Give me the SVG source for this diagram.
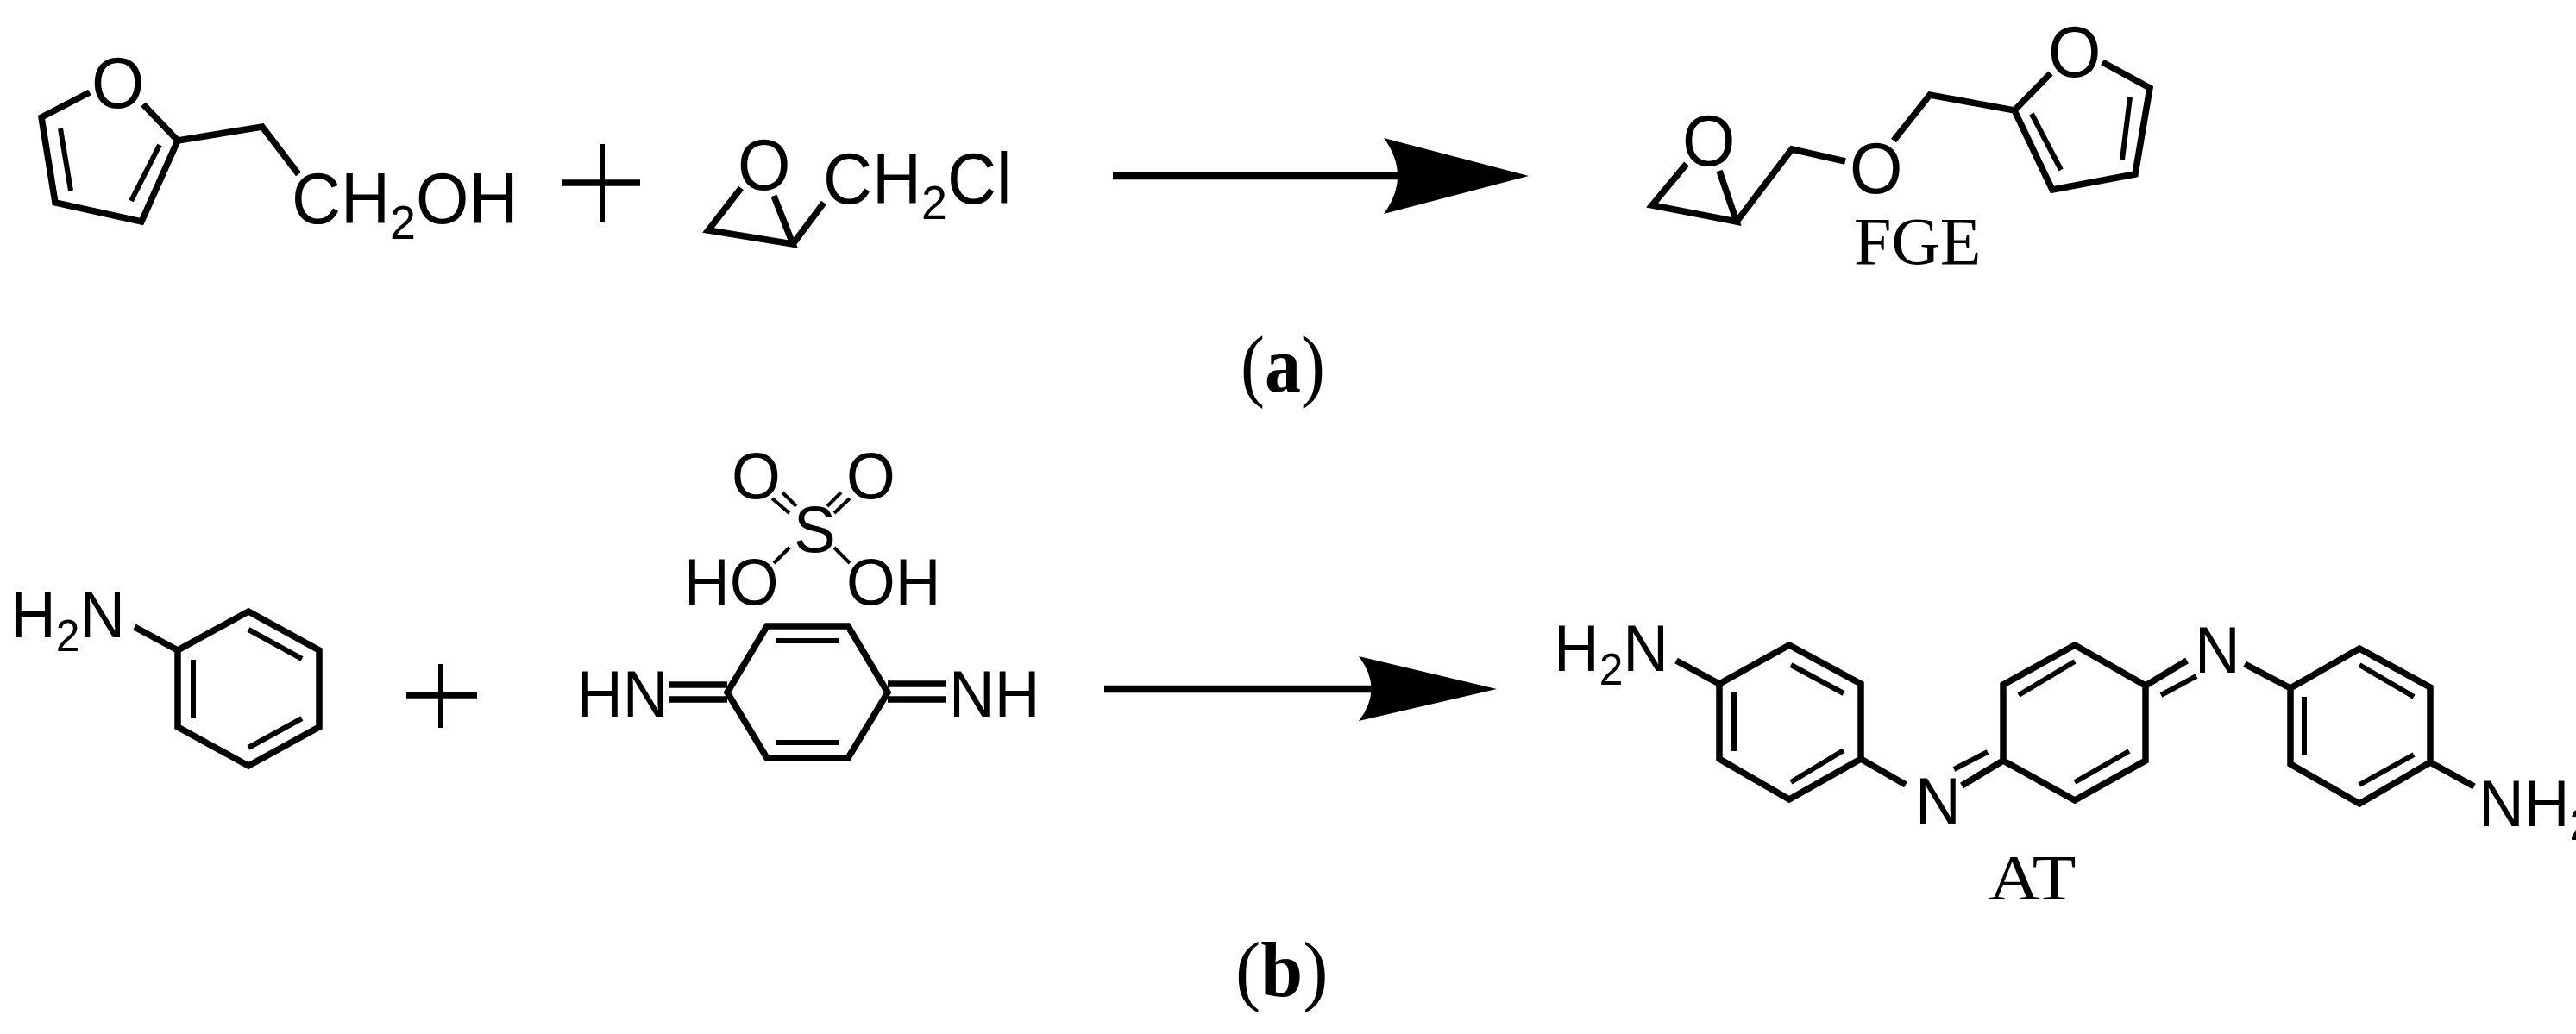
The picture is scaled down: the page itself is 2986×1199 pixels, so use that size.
<svg xmlns="http://www.w3.org/2000/svg" width="2986" height="1199" viewBox="0 0 2986 1199">
<style>
.b{fill:none;stroke:#000;stroke-width:7.5;stroke-linejoin:miter;stroke-linecap:butt}
.i{fill:none;stroke:#000;stroke-width:6}
.t{fill:none;stroke:#000;stroke-width:4}
.s{font-family:"Liberation Sans",Arial,sans-serif;font-size:79px;fill:#000}
.m{font-family:"Liberation Sans",Arial,sans-serif;font-size:73px;fill:#000}
.r{font-family:"Liberation Serif","Times New Roman",serif;font-size:78px;fill:#000}
.sub{font-size:0.68em}
.bd{font-weight:bold}
.ar{stroke:#000;stroke-width:8.5;fill:none}
.hd{fill:#000;stroke:none}
</style>
<rect width="2986" height="1199" fill="#fff"/>
<g id="connectors">
<line class="ar" x1="1290" y1="204" x2="1630" y2="204"/>
<path class="hd" d="M1772 204L1604 160Q1636 204 1604 248Z"/>
<line class="ar" x1="1280" y1="799" x2="1598" y2="799"/>
<path class="hd" d="M1735 799L1575 761Q1604 799 1575 836Z"/>
</g>
<g id="furfuryl-alcohol">
<path class="b" d="M104 107L48 136L64 235L164 257L206 163L166 121"/>
<path class="b" d="M206 163L304 147L346 202"/>
<path class="i" d="M70 149L82 221M185 168L152 233"/>
<text class="s" transform="translate(106,125) scale(1,1.05)">O</text>
<text class="s" transform="translate(338,259) scale(1,1.05)">CH<tspan class="sub" dy="17">2</tspan><tspan dy="-17">OH</tspan></text>
</g>
<g id="plus-a" transform="translate(-2,0)"><path class="b" d="M654 212H744"/><path class="i" d="M700 167V257"/></g>
<g id="epichlorohydrin" transform="translate(-3,0)">
<path class="b" d="M862 218L824 267L922 283L900 227M922 283L958 235"/>
<text class="s" transform="translate(858,220) scale(1,1.05)">O</text>
<text class="s" transform="translate(957,236) scale(1,1.05)">CH<tspan class="sub" dy="17">2</tspan><tspan dy="-17">Cl</tspan></text>
</g>
<g id="FGE" transform="translate(-3,0)">
<path class="b" d="M1958 190L1918 238L2016 257L1996 198M2016 257L2080 173L2142 187M2198 163L2240 110L2338 128L2380 85M2440 72L2495 102L2478 202L2382 220L2338 128"/>
<path class="i" d="M2472 113L2463 185M2358 132L2392 197"/>
<text class="s" transform="translate(1953,192) scale(1,1.05)">O</text>
<text class="s" transform="translate(2147,224) scale(1,1.05)">O</text>
<text class="s" transform="translate(2377,89) scale(1,1.05)">O</text>
<text class="r" x="2152" y="306">FGE</text>
</g>
<g id="label-a"><text class="r" transform="translate(1438,454) scale(1,1.1)" style="font-size:84px">(<tspan class="bd">a</tspan>)</text></g>
<g id="aniline">
<path class="b" d="M288 709L370 754V843L288 888L206 843V754Z"/>
<path class="i" d="M288 730L350 764M350 833L288 867M224 765V833"/>
<path class="b" d="M156 727L206 754"/>
<text class="m" transform="translate(12,739) scale(1,1.05)">H<tspan class="sub" dy="15">2</tspan><tspan dy="-15">N</tspan></text>
</g>
<g id="plus-b" transform="translate(-1,0)"><path class="b" d="M472 806H554"/><path class="i" d="M512 770V844"/></g>
<g id="quinone-diimine-sulfate" transform="translate(-3,0)">
<path class="b" d="M846 803L892 726H986L1032 803L986 879H892Z"/>
<path class="i" d="M902 743H976M902 861H976"/>
<path class="b" d="M778 794H846M778 811H846M1032 793H1100M1032 811H1100"/>
<text class="m" transform="translate(672,831) scale(1,1.05)">HN</text>
<text class="m" transform="translate(1103,831) scale(1,1.05)">NH</text>
<text class="m" transform="translate(923,640) scale(1,1.05)">S</text>
<text class="m" transform="translate(851,578) scale(1,1.05)">O</text>
<text class="m" transform="translate(984,578) scale(1,1.05)">O</text>
<text class="m" transform="translate(796,701) scale(1,1.05)">HO</text>
<text class="m" transform="translate(984,701) scale(1,1.05)">OH</text>
<path class="t" d="M898 578L918 595M910 571L926 587M978 571L962 587M988 578L970 595M918 635L900 653M970 635L988 653"/>
</g>
<g id="AT" transform="translate(-4,0)">
<path class="b" d="M2078 748L2161 793V880L2078 927L1997 880V793Z"/>
<path class="i" d="M2080 771L2141 804M2141 870L2080 907M2014 803V871"/>
<path class="b" d="M1947 766L1997 793M2161 880L2213 910M2326 882L2278 911M2491 795L2539 766M2606 770L2659 798M2821 884L2872 912"/>
<path class="i" d="M2308 872L2269 892M2509 806L2550 784"/>
<path class="b" d="M2409 748L2491 795V882L2409 928L2326 882V794Z"/>
<path class="i" d="M2409 767L2344 806M2472 871L2409 907"/>
<path class="b" d="M2739 752L2821 797V884L2739 932L2659 886V798Z"/>
<path class="i" d="M2739 771L2802 808M2802 875L2739 910M2675 808V876"/>
<text class="m" transform="translate(1805,778) scale(1,1.05)">H<tspan class="sub" dy="15">2</tspan><tspan dy="-15">N</tspan></text>
<text class="m" transform="translate(2224,955) scale(1,1.05)">N</text>
<text class="m" transform="translate(2548,780) scale(1,1.05)">N</text>
<text class="m" transform="translate(2877,958) scale(1,1.05)">NH<tspan class="sub" dy="15">2</tspan></text>
<text class="r" transform="translate(2309,1043) scale(1,0.9)" style="font-size:83px">AT</text>
</g>
<g id="label-b"><text class="r" transform="translate(1432,1155) scale(1,1.03)" style="font-size:88px">(<tspan class="bd">b</tspan>)</text></g>
</svg>
